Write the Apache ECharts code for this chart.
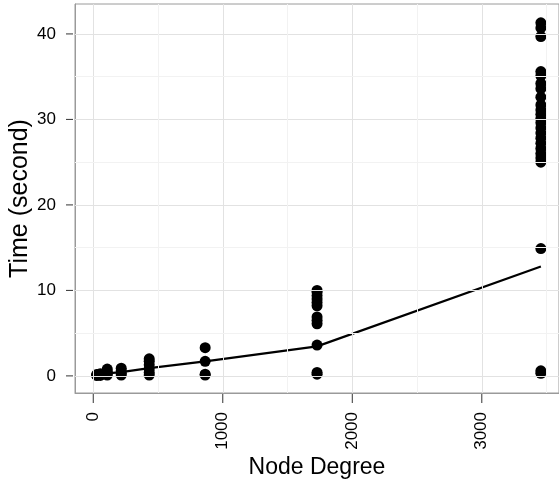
<!DOCTYPE html>
<html>
<head>
<meta charset="utf-8">
<script src="https://cdn.jsdelivr.net/npm/echarts@6/dist/echarts.min.js"></script>
<style>
  html, body { margin: 0; padding: 0; background: #fff; }
  #chart { width: 559px; height: 487px; }
</style>
</head>
<body>
<div id="chart"></div>
<script>
    // node degree of each test group
    var degrees = [27, 54, 108, 216, 432, 864, 1728, 3456];
    // measured times (seconds) per group
    var times27 = [0.05, 0.1, 0.15];
    var times54 = [0.05, 0.15, 0.25];
    var times108 = [0.1, 0.3, 0.5, 0.8];
    var times216 = [0.1, 0.3, 0.6, 0.9];
    var times432 = [0.1, 0.4, 0.8, 1.3, 1.7, 2.0];
    var times864 = [0.1, 0.2, 1.7, 3.3];
    var times1728 = [0.2, 0.4, 3.6, 6.1, 6.5, 6.9, 8.2, 8.6, 9.0, 9.4, 9.8, 10.0];
    var times3456 = [0.3, 0.6, 14.9, 25.0, 25.5, 26.0, 26.6, 27.2, 27.8, 28.4, 29.0, 29.6,
                     30.1, 30.6, 31.1, 31.7, 32.6, 33.6, 34.2, 35.1, 35.6, 39.7, 40.7, 41.3];
    // the summary line
    var lineValues = [0.1, 0.15, 0.3, 0.45, 0.9, 1.7, 3.45, 12.8];

    var xTicks = [0, 1000, 2000, 3000];
    var xMinor = [500, 1500, 2500, 3500];
    var yTicks = [0, 10, 20, 30, 40];
    var yMinor = [5, 15, 25, 35];

    var xMin = -141, xMax = 3596;
    var yMin = -2, yMax = 43.5;

    var groups = [times27, times54, times108, times216, times432, times864, times1728, times3456];
    var points = [];
    groups.forEach(function (g, i) {
        g.forEach(function (t) { points.push([degrees[i], t]); });
    });
    var linePoints = degrees.map(function (d, i) { return [d, lineValues[i]]; });

    var gridLines = [];
    xTicks.forEach(function (v) { gridLines.push({ xAxis: v, lineStyle: { color: '#e2e2e2' } }); });
    yTicks.forEach(function (v) { gridLines.push({ yAxis: v, lineStyle: { color: '#e2e2e2' } }); });
    xMinor.forEach(function (v) { gridLines.push({ xAxis: v, lineStyle: { color: '#f2f2f2' } }); });
    yMinor.forEach(function (v) { gridLines.push({ yAxis: v, lineStyle: { color: '#f2f2f2' } }); });

    // tick marks drawn outside the panel, placed through the axis scales
    function tickItem(vertical) {
        return function (params, api) {
            var p = api.coord([api.value(0), api.value(1)]);
            var shape = vertical
                ? { x1: p[0], y1: p[1] + 1, x2: p[0], y2: p[1] + 10 }
                : { x1: p[0] - 2, y1: p[1], x2: p[0] - 9, y2: p[1] };
            return { type: 'line', shape: shape, style: { stroke: '#333', lineWidth: 1 } };
        };
    }

    var font = 'Liberation Sans, Arial, Helvetica, sans-serif';
    var plain = function (v) { return String(v); };
    var chart = echarts.init(document.getElementById('chart'));
    chart.setOption({
        animation: false,
        backgroundColor: '#fff',
        grid: {
            left: 74, top: 4, right: -2, bottom: 94,
            show: true, borderColor: '#9a9a9a', borderWidth: 1
        },
        xAxis: {
            type: 'value',
            min: xMin, max: xMax,
            name: 'Node Degree',
            nameLocation: 'middle',
            nameGap: 63,
            nameMoveOverlap: false,
            nameTextStyle: { fontSize: 23, color: '#000', fontFamily: font },
            axisLine: { show: true, onZero: false, lineStyle: { color: '#9a9a9a' } },
            axisTick: { show: false },
            axisLabel: {
                customValues: xTicks, rotate: 90, margin: 19, formatter: plain,
                fontSize: 17, color: '#000', fontFamily: font
            },
            splitLine: { show: false }
        },
        yAxis: {
            type: 'value',
            min: yMin, max: yMax,
            name: 'Time (second)',
            nameLocation: 'middle',
            nameGap: 42,
            nameMoveOverlap: false,
            nameTextStyle: { fontSize: 25, color: '#000', fontFamily: font },
            axisLine: { show: true, onZero: false, lineStyle: { color: '#9a9a9a' } },
            axisTick: { show: false },
            axisLabel: {
                customValues: yTicks, margin: 19, formatter: plain,
                fontSize: 17, color: '#000', fontFamily: font
            },
            splitLine: { show: false }
        },
        series: [
            {
                type: 'line',
                data: [],
                silent: true,
                z: 1,
                markLine: {
                    silent: true,
                    symbol: 'none',
                    label: { show: false },
                    animation: false,
                    lineStyle: { type: 'solid', width: 1 },
                    data: gridLines
                }
            },
            {
                type: 'custom',
                silent: true,
                clip: false,
                data: xTicks.map(function (v) { return [v, yMin]; }),
                renderItem: tickItem(true)
            },
            {
                type: 'custom',
                silent: true,
                clip: false,
                data: yTicks.map(function (v) { return [xMin, v]; }),
                renderItem: tickItem(false)
            },
            {
                type: 'scatter',
                data: points,
                symbol: 'circle',
                symbolSize: 11,
                itemStyle: { color: '#000', opacity: 1 },
                z: 3
            },
            {
                type: 'line',
                data: linePoints,
                showSymbol: false,
                lineStyle: { color: '#000', width: 2.2 },
                z: 4
            }
        ]
    });
</script>
</body>
</html>
